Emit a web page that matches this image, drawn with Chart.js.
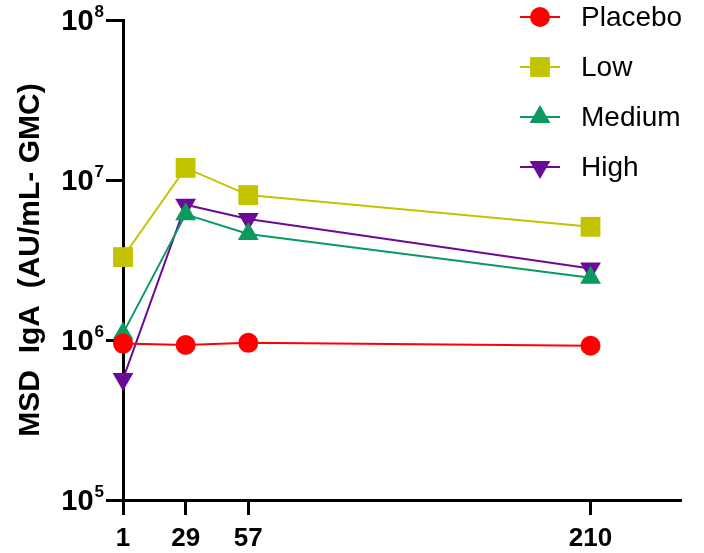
<!DOCTYPE html>
<html>
<head>
<meta charset="utf-8">
<script src="https://cdn.jsdelivr.net/npm/chart.js@4.4.0/dist/chart.umd.min.js"></script>
<style>
  html, body { margin: 0; padding: 0; background: #fff; }
  #wrap { width: 704px; height: 553px; }
</style>
</head>
<body>
<div id="wrap"><canvas id="chartIgA" width="704" height="553"></canvas></div>
<script>
// days after vaccination
const days = [1, 29, 57, 210];
const yTicks = [1e5, 1e6, 1e7, 1e8];

const placebo = [0.95e6, 0.93e6, 0.96e6, 0.92e6];
const low = [3.3e6, 1.19e7, 8.05e6, 5.1e6];
const medium = [1.1e6, 6.1e6, 4.6e6, 2.45e6];
const high = [5.7e5, 7.0e6, 5.7e6, 2.8e6];

const seriesNames = ['Placebo', 'Low', 'Medium', 'High'];
const seriesColors = ['#ff0000', '#c3c300', '#0a9a5e', '#6b0a99'];

function toPoints(arr) {
  return arr.map((v, i) => ({ x: days[i], y: v }));
}

function makeSet(i, values, style, radius, rotation) {
  return {
    label: seriesNames[i],
    data: toPoints(values),
    borderColor: seriesColors[i],
    backgroundColor: seriesColors[i],
    borderWidth: 2,
    pointStyle: style,
    pointRadius: radius,
    pointRotation: rotation,
    pointBorderWidth: 0,
    pointBackgroundColor: seriesColors[i],
    clip: false,
    tension: 0
  };
}

const datasets = [
  makeSet(0, placebo, 'circle', 10, 0),
  makeSet(1, low, 'rect', 14, 0),
  makeSet(2, medium, 'triangle', 12, 0),
  makeSet(3, high, 'triangle', 12, 180)
];

// y labels as 10 with a raised exponent
const powerLabels = {
  id: 'powerLabels',
  afterDraw(chart) {
    const ctx = chart.ctx;
    const yScale = chart.scales.y;
    ctx.save();
    ctx.fillStyle = '#000';
    yTicks.forEach(v => {
      const y = yScale.getPixelForValue(v);
      const exp = String(Math.round(Math.log10(v)));
      ctx.font = 'bold 17px "Liberation Sans", Arial, sans-serif';
      ctx.textAlign = 'right';
      ctx.textBaseline = 'alphabetic';
      ctx.fillText(exp, 104, y - 3);
      const ew = ctx.measureText(exp).width;
      ctx.font = 'bold 29px "Liberation Sans", Arial, sans-serif';
      ctx.fillText('10', 104 - ew - 1, y + 10);
    });
    ctx.restore();
  }
};

// legend drawn inside the plot, top right
const sideLegend = {
  id: 'sideLegend',
  afterDraw(chart) {
    const ctx = chart.ctx;
    ctx.save();
    chart.data.datasets.forEach((ds, i) => {
      const y = 17 + i * 50;
      ctx.strokeStyle = ds.borderColor;
      ctx.lineWidth = 2;
      ctx.beginPath();
      ctx.moveTo(520, y);
      ctx.lineTo(560, y);
      ctx.stroke();
      ctx.fillStyle = ds.backgroundColor;
      Chart.helpers.drawPoint(ctx, {
        pointStyle: ds.pointStyle,
        rotation: ds.pointRotation,
        radius: ds.pointRadius,
        borderWidth: 0
      }, 540, y);
      ctx.fillStyle = '#000';
      ctx.font = '28px "Liberation Sans", Arial, sans-serif';
      ctx.textAlign = 'left';
      ctx.textBaseline = 'middle';
      ctx.fillText(ds.label, 581, y + 1);
    });
    ctx.restore();
  }
};

const config = {
  type: 'line',
  data: { datasets: datasets },
  options: {
    responsive: false,
    animation: false,
    layout: { padding: { top: 20, right: 24, left: 0, bottom: 0 } },
    plugins: {
      legend: { display: false },
      tooltip: { enabled: false }
    },
    scales: {
      x: {
        type: 'linear',
        min: 1,
        max: 250,
        afterBuildTicks: (scale) => { scale.ticks = days.map(d => ({ value: d })); },
        afterFit: (scale) => { scale.height = 53; },
        border: { display: true, color: '#000', width: 3 },
        grid: { drawOnChartArea: false, drawTicks: true, tickLength: 15, color: '#000', lineWidth: 3 },
        ticks: {
          color: '#000',
          padding: 8,
          autoSkip: false,
          maxRotation: 0,
          font: { family: '"Liberation Sans", Arial, sans-serif', size: 26, weight: 'bold' },
          callback: (v) => String(v)
        }
      },
      y: {
        type: 'logarithmic',
        min: 1e5,
        max: 1e8,
        afterBuildTicks: (scale) => { scale.ticks = yTicks.map(v => ({ value: v })); },
        afterFit: (scale) => { scale.width = 123; },
        border: { display: true, color: '#000', width: 3 },
        grid: { drawOnChartArea: false, drawTicks: true, tickLength: 17, color: '#000', lineWidth: 3 },
        ticks: { display: false },
        title: {
          display: true,
          text: 'MSD  IgA  (AU/mL- GMC)',
          color: '#000',
          padding: { top: 13, bottom: 0 },
          font: { family: '"Liberation Sans", Arial, sans-serif', size: 30, weight: 'bold' }
        }
      }
    }
  },
  plugins: [powerLabels, sideLegend]
};

const ctx = document.getElementById('chartIgA').getContext('2d');
const myChart = new Chart(ctx, config);
</script>
</body>
</html>
